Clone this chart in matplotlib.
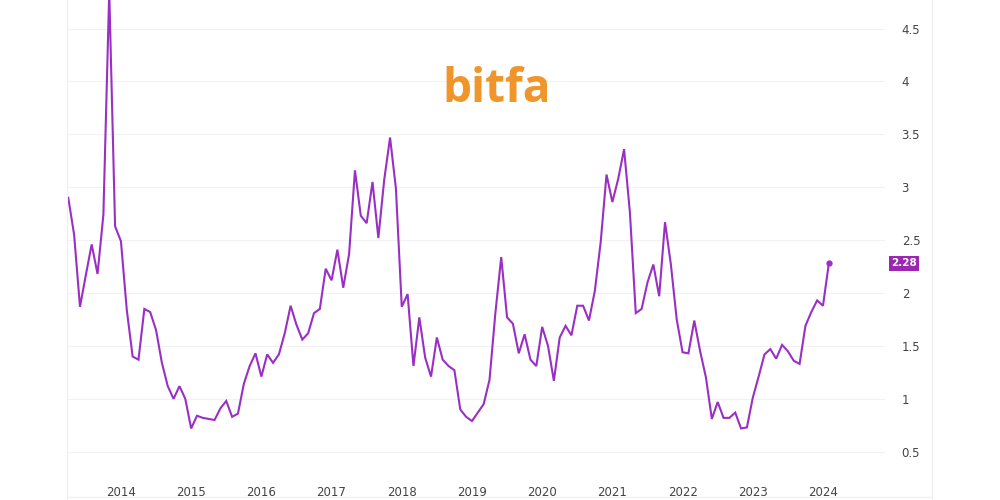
import matplotlib

matplotlib.use("Agg")
import matplotlib.pyplot as plt
import numpy as np
from matplotlib.lines import Line2D

# monthly values, Apr 2013 .. Feb 2024
start_year = 2013
start_month = 4
values = [
    2.90, 2.55, 1.87, 2.17, 2.46, 2.18, 2.74, 4.85, 2.63, 2.49,
    1.84, 1.40, 1.37, 1.85, 1.82, 1.65, 1.34, 1.12, 1.00, 1.12,
    1.00, 0.72, 0.84, 0.82, 0.81, 0.80, 0.91, 0.98, 0.83, 0.86,
    1.14, 1.31, 1.43, 1.21, 1.42, 1.34, 1.42, 1.62, 1.88, 1.70,
    1.56, 1.62, 1.81, 1.85, 2.23, 2.12, 2.41, 2.05, 2.37, 3.16,
    2.73, 2.66, 3.05, 2.52, 3.07, 3.47, 2.99, 1.87, 1.99, 1.31,
    1.77, 1.39, 1.21, 1.58, 1.37, 1.31, 1.27, 0.90, 0.83, 0.79,
    0.87, 0.95, 1.18, 1.81, 2.34, 1.77, 1.71, 1.43, 1.61, 1.37,
    1.31, 1.68, 1.50, 1.17, 1.58, 1.69, 1.60, 1.88, 1.88, 1.74,
    2.02, 2.48, 3.12, 2.86, 3.08, 3.36, 2.76, 1.81, 1.85, 2.10,
    2.27, 1.97, 2.67, 2.27, 1.75, 1.44, 1.43, 1.74, 1.45, 1.20,
    0.81, 0.97, 0.82, 0.82, 0.87, 0.72, 0.73, 1.01, 1.21, 1.42,
    1.47, 1.38, 1.51, 1.45, 1.36, 1.33, 1.69, 1.82, 1.93, 1.88,
    2.28,
]
years = list(range(2014, 2025))
y_ticks = [0.5, 1, 1.5, 2, 2.5, 3, 3.5, 4, 4.5]
last_label = "2.28"

LINE = "#9a2fc4"
TICK_COLOR = "#444444"

x = np.arange(len(values))
year_pos = [(y - start_year) * 12 - (start_month - 1) for y in years]

fig = plt.figure(figsize=(10, 5), dpi=100)
ax = fig.add_axes([0.067, 0.05, 0.818, 0.95])

ax.plot(x, values, color=LINE, linewidth=1.5, solid_joinstyle="miter")
ax.plot(x[-1], values[-1], "o", color=LINE, markersize=3.5)

ax.set_xlim(-0.22, 139.6)
ax.set_ylim(0.28, 4.77)

ax.set_xticks(year_pos)
ax.set_xticklabels([str(y) for y in years])
ax.set_yticks(y_ticks)
ax.set_yticklabels([f"{v:g}" for v in y_ticks])
ax.yaxis.tick_right()
ax.tick_params(axis="both", length=0, labelsize=8.5, labelcolor=TICK_COLOR)
ax.tick_params(axis="y", pad=12)
ax.tick_params(axis="x", pad=8)
for lab in ax.get_yticklabels():
    lab.set_horizontalalignment("left")

ax.grid(axis="y", color="#f2f2f2", linewidth=0.8)
for side in ["top", "right", "bottom", "left"]:
    ax.spines[side].set_visible(False)

# price tag for last value
ax.annotate(
    last_label,
    xy=(1.0, values[-1]),
    xycoords=("axes fraction", "data"),
    xytext=(4.5, 0),
    textcoords="offset points",
    ha="left",
    va="center",
    fontsize=7.5,
    fontweight="bold",
    color="white",
    bbox=dict(boxstyle="square,pad=0.22", fc="#9c27b0", ec="none"),
)

# panel separators
fig.add_artist(Line2D([0.932, 0.932], [0, 1], color="#eeeeee", linewidth=0.8))
fig.add_artist(Line2D([0.067, 0.067], [0, 1], color="#eeeeee", linewidth=0.8))
fig.add_artist(Line2D([0.067, 0.932], [0.006, 0.006], color="#eeeeee", linewidth=0.8))

# watermark logo
fig.text(
    0.497, 0.822, "bitfa",
    ha="center", va="center",
    fontsize=33, fontweight="bold", family="Open Sans",
    color="#f0952a",
)

fig.savefig("out.png", dpi=100, facecolor="white")
